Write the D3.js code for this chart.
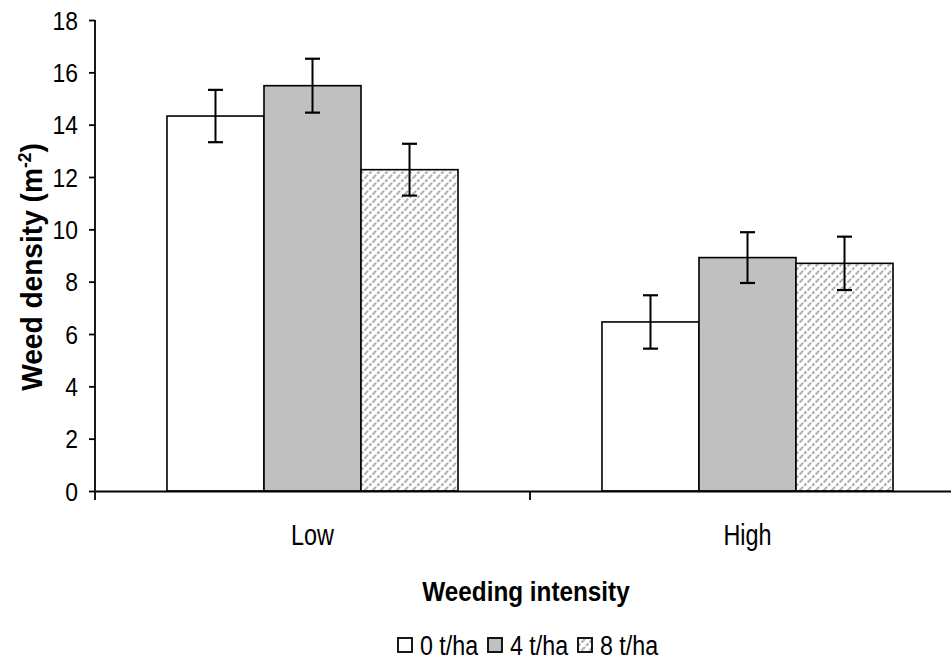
<!DOCTYPE html>
<html><head><meta charset="utf-8">
<script src="https://cdn.jsdelivr.net/npm/d3@7"></script>
<style>body{margin:0;background:#fff}svg{display:block}text{font-family:"Liberation Sans",Arial,sans-serif;fill:#000}</style>
</head><body><svg id="c" width="951" height="659"></svg>
<script>
const categories = ["Low", "High"];
const series = ["0 t/ha", "4 t/ha", "8 t/ha"];
const lowValues = [14.33, 15.49, 12.28];
const highValues = [6.46, 8.92, 8.70];
const lowErrors = [1.0, 1.03, 0.99];
const highErrors = [1.02, 0.97, 1.02];
const yTicks = [0, 2, 4, 6, 8, 10, 12, 14, 16, 18];

const values = [lowValues, highValues];
const errors = [lowErrors, highErrors];
const fills = ["#ffffff", "#c0c0c0", "url(#hatch)"];

const svg = d3.select("#c");
const defs = svg.append("defs");
const pat = defs.append("pattern").attr("id","hatch").attr("patternUnits","userSpaceOnUse")
  .attr("width",8).attr("height",8);
pat.append("rect").attr("width",8).attr("height",8).attr("fill","#fff");
[[-1,9,9,-1],[-5,5,5,-5],[3,13,13,3]].forEach(([a,b,c,d]) =>
  pat.append("line").attr("x1",a).attr("y1",b).attr("x2",c).attr("y2",d)
    .attr("stroke","#b0b0b0").attr("stroke-width",2.2).attr("stroke-dasharray","3,1.6"));

const x0 = d3.scaleBand().domain(categories).range([95, 965]).paddingInner(0).paddingOuter(0);
const x1 = d3.scaleBand().domain(series).range([0, x0.bandwidth()]).paddingInner(0).paddingOuter(0.742);
const y = d3.scaleLinear().domain([0, 18]).range([491, 20]);

// bars
categories.forEach((c, ci) => {
  const g = svg.append("g").attr("transform", `translate(${x0(c)},0)`);
  series.forEach((s, si) => {
    const v = values[ci][si];
    g.append("rect").attr("x", x1(s)).attr("y", y(v)).attr("width", x1.bandwidth())
      .attr("height", y(0) - y(v)).attr("fill", fills[si]).attr("stroke", "#000").attr("stroke-width", 1.6);
  });
});
// error bars
categories.forEach((c, ci) => {
  const g = svg.append("g").attr("transform", `translate(${x0(c)},0)`);
  series.forEach((s, si) => {
    const v = values[ci][si], e = errors[ci][si];
    const cx = x1(s) + x1.bandwidth() / 2;
    g.append("line").attr("x1", cx).attr("x2", cx).attr("y1", y(v + e)).attr("y2", y(v - e))
      .attr("stroke", "#000").attr("stroke-width", 2);
    [v + e, v - e].forEach(t => g.append("line").attr("x1", cx - 7.5).attr("x2", cx + 7.5)
      .attr("y1", y(t)).attr("y2", y(t)).attr("stroke", "#000").attr("stroke-width", 2.2));
  });
});

// y axis
const ya = svg.append("g").attr("transform", "translate(95,0)")
  .call(d3.axisLeft(y).tickValues(yTicks).tickSize(6).tickFormat(""));
ya.select(".domain").attr("stroke-width", 1.8).attr("d", `M-0,${y(18)}V${y(0)}`);
ya.selectAll(".tick line").attr("stroke-width", 1.8);
yTicks.forEach(t => {
  svg.append("text").attr("transform", `translate(78,${y(t) + 9.5}) scale(0.88,1)`)
    .attr("text-anchor", "end").attr("font-size", 26).text(t);
});

// x axis
const xa = svg.append("g").attr("transform", `translate(0,${y(0)})`)
  .call(d3.axisBottom(x0).tickValues([]).tickSizeOuter(0));
xa.select(".domain").attr("stroke-width", 2.2);
[95, x0("High")].forEach(px => xa.append("line").attr("x1", px).attr("x2", px).attr("y1", 0).attr("y2", 9)
  .attr("stroke", "#000").attr("stroke-width", 1.8));
categories.forEach(c => {
  svg.append("text").attr("transform", `translate(${x0(c) + x0.bandwidth() / 2},545) scale(0.78,1)`)
    .attr("text-anchor", "middle").attr("font-size", 30).text(c);
});

// axis titles
svg.append("text").attr("transform", `translate(526,601) scale(0.9,1)`).attr("text-anchor", "middle")
  .attr("font-size", 27).attr("font-weight", "bold").text("Weeding intensity");
const yt = svg.append("text").attr("transform", `translate(42,267) rotate(-90) scale(0.97,1)`)
  .attr("text-anchor", "middle").attr("font-size", 29).attr("font-weight", "bold");
yt.append("tspan").text("Weed density (m");
yt.append("tspan").attr("font-size", 18).attr("dy", -11).text("-2");
yt.append("tspan").attr("dy", 11).text(")");

// legend
const legX = [398, 488, 578];
series.forEach((s, si) => {
  svg.append("rect").attr("x", legX[si]).attr("y", 638).attr("width", 14).attr("height", 14)
    .attr("fill", fills[si]).attr("stroke", "#000").attr("stroke-width", 1.8);
  svg.append("text").attr("transform", `translate(${legX[si] + 22},655) scale(0.83,1)`)
    .attr("font-size", 28).text(s);
});
</script></body></html>
